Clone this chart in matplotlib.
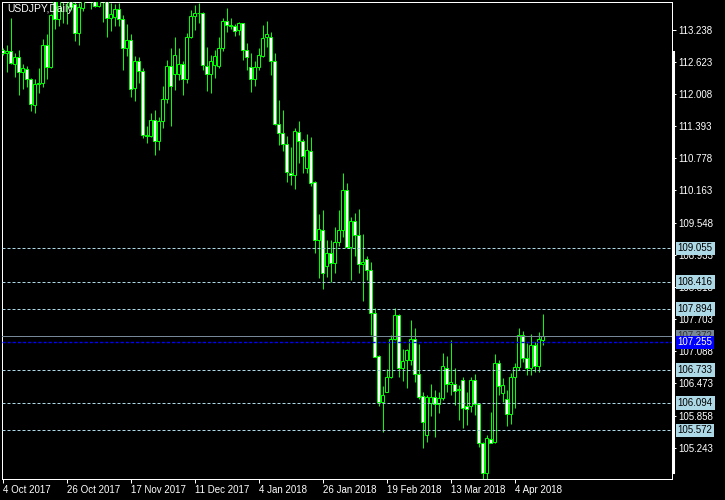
import numpy as np
import matplotlib
matplotlib.use("Agg")
from matplotlib import pyplot as plt
from matplotlib import transforms
from matplotlib.lines import Line2D

plt.rcParams['font.family'] = ['Liberation Sans', 'DejaVu Sans']

# daily USDJPY bars, 4 Oct 2017 .. 13 Apr 2018
opens = [112.85, 112.79, 112.83, 112.59, 112.71, 112.43, 112.48, 112.29, 111.79, 112.19,
         112.21, 112.95, 112.53, 113.97, 113.44, 113.93, 113.81, 114.09, 113.73, 113.18,
         113.65, 113.87, 113.93, 113.84, 113.70, 113.84, 113.87, 113.47, 113.49, 113.63,
         113.45, 112.88, 113.05, 112.12, 112.64, 112.45, 111.22, 111.20, 111.51, 111.11,
         111.49, 111.92, 112.54, 112.40, 112.39, 112.58, 112.29, 113.09, 113.50, 113.55,
         113.55, 112.54, 112.39, 112.56, 112.54, 112.89, 113.40, 113.33, 113.30, 113.23,
         113.36, 112.85, 112.52, 112.29, 112.52, 112.73, 113.09, 113.10, 112.63, 111.43,
         111.26, 111.06, 110.50, 110.46, 111.28, 111.10, 110.59, 110.92, 110.32, 109.22,
         109.41, 108.71, 108.96, 108.78, 109.18, 109.41, 110.18, 109.09, 109.58, 109.31,
         108.76, 108.86, 108.65, 107.81, 106.99, 106.12, 106.31, 106.59, 107.33, 107.78,
         106.76, 106.92, 106.92, 107.33, 106.66, 106.23, 105.49, 106.10, 106.21, 106.08,
         106.19, 106.76, 106.46, 106.47, 106.35, 106.54, 106.04, 106.04, 106.54, 106.08,
         105.33, 104.75, 105.40, 105.36, 106.86, 106.28, 106.17, 105.88, 106.60, 106.78,
         107.40, 106.95, 106.76, 107.21, 106.81, 107.30]
highs = [112.88, 112.95, 113.46, 112.79, 112.85, 112.59, 112.54, 112.31, 112.29, 112.51,
         113.06, 113.16, 113.54, 114.09, 114.06, 114.06, 114.19, 114.44, 113.77, 113.74,
         114.06, 114.19, 114.12, 114.19, 114.00, 114.00, 113.93, 113.74, 113.73, 113.74,
         113.52, 113.35, 113.16, 112.73, 112.72, 112.50, 111.40, 111.64, 111.70, 111.57,
         112.16, 112.66, 112.88, 113.10, 112.89, 112.64, 113.17, 113.61, 113.71, 113.75,
         113.58, 112.91, 112.75, 112.85, 113.09, 113.47, 113.65, 113.46, 113.35, 113.39,
         113.36, 112.99, 112.79, 112.63, 112.88, 113.33, 113.40, 113.20, 112.79, 111.89,
         111.70, 111.20, 110.99, 111.35, 111.49, 111.14, 111.24, 111.19, 110.34, 109.71,
         109.79, 109.22, 109.22, 109.46, 109.78, 110.49, 110.31, 109.66, 109.73, 109.80,
         109.33, 108.91, 108.80, 107.91, 107.01, 106.42, 106.74, 107.40, 107.91, 107.80,
         107.14, 107.14, 107.69, 107.53, 107.23, 106.31, 106.25, 106.47, 106.35, 106.31,
         107.05, 106.99, 107.30, 106.76, 106.44, 106.59, 106.31, 106.60, 106.65, 106.09,
         105.36, 105.49, 105.93, 107.03, 106.92, 106.57, 106.35, 106.68, 106.86, 107.53,
         107.48, 107.24, 107.42, 107.27, 107.46, 107.80]
lows = [112.75, 112.42, 112.59, 112.34, 111.99, 112.10, 112.14, 111.69, 111.65, 112.03,
        112.14, 112.29, 112.51, 113.25, 113.30, 113.36, 113.35, 113.62, 113.02, 112.94,
        113.60, 113.76, 113.63, 113.68, 113.68, 113.39, 113.10, 113.22, 113.31, 113.31,
        112.47, 112.73, 111.96, 111.88, 112.21, 111.16, 111.08, 111.19, 110.85, 110.94,
        111.36, 111.83, 111.40, 112.08, 112.28, 111.99, 112.22, 113.07, 113.23, 113.37,
        112.47, 112.07, 112.03, 112.31, 112.50, 112.84, 113.20, 113.25, 113.12, 113.14,
        112.66, 112.47, 112.05, 112.16, 112.47, 112.72, 112.91, 112.37, 111.41, 111.03,
        110.92, 110.33, 110.27, 110.20, 110.69, 110.50, 110.49, 110.25, 108.97, 108.48,
        108.27, 108.50, 108.42, 108.59, 109.10, 109.28, 109.06, 108.45, 108.91, 108.59,
        108.05, 108.45, 107.40, 106.97, 106.04, 105.55, 106.30, 106.57, 107.30, 106.60,
        106.51, 106.38, 106.82, 106.50, 106.17, 105.23, 105.36, 105.85, 105.45, 105.90,
        106.15, 106.31, 106.25, 106.06, 105.78, 105.61, 105.68, 105.93, 105.87, 105.26,
        104.60, 104.62, 105.33, 105.33, 106.25, 106.12, 105.66, 105.70, 106.00, 106.72,
        106.89, 106.63, 106.63, 106.70, 106.70, 107.21]
closes = [112.80, 112.83, 112.61, 112.72, 112.43, 112.50, 112.29, 111.81, 112.19, 112.21,
          112.95, 112.53, 113.52, 113.44, 113.93, 113.81, 114.09, 113.67, 113.18, 113.67,
          113.87, 113.93, 113.84, 113.70, 113.84, 113.87, 113.47, 113.54, 113.63, 113.45,
          112.88, 113.05, 112.10, 112.64, 112.45, 111.22, 111.21, 111.51, 111.10, 111.49,
          111.92, 112.54, 112.16, 112.75, 112.58, 112.29, 113.09, 113.50, 113.55, 113.56,
          112.56, 112.39, 112.64, 112.73, 112.89, 113.40, 113.33, 113.31, 113.22, 113.36,
          112.85, 112.71, 112.29, 112.52, 112.75, 113.07, 113.16, 112.63, 111.43, 111.26,
          111.06, 110.52, 110.45, 111.30, 111.10, 110.83, 110.94, 110.31, 109.22, 109.42,
          108.59, 108.96, 108.78, 109.18, 109.41, 110.18, 109.08, 109.58, 109.31, 108.76,
          108.80, 108.65, 107.81, 106.98, 106.12, 106.26, 106.59, 107.33, 107.78, 106.76,
          106.90, 107.11, 107.33, 106.66, 106.22, 105.74, 106.21, 106.21, 106.08, 106.19,
          106.81, 106.46, 106.49, 106.33, 106.36, 106.00, 105.98, 106.54, 106.08, 105.33,
          104.75, 105.42, 105.34, 106.86, 106.42, 106.44, 105.88, 106.60, 106.78, 107.40,
          106.95, 106.76, 107.21, 106.81, 107.32, 107.37]

date_ticks = [0, 16, 32, 48, 64, 80, 96, 112, 128]
date_labels = ['4 Oct 2017', '26 Oct 2017', '17 Nov 2017', '11 Dec 2017', '4 Jan 2018',
               '26 Jan 2018', '19 Feb 2018', '13 Mar 2018', '4 Apr 2018']
price_ticks = [113.238, 112.623, 112.008, 111.393, 110.778, 110.163, 109.548,
               108.933, 108.318, 107.703, 107.088, 106.473, 105.858, 105.243]
levels = [109.055, 108.416, 107.894, 106.733, 106.094, 105.572]
bid = 107.372
blue_level = 107.255

GREEN = '#00FF00'
LBLUE = '#ADD8E6'
px = 0.72  # one pixel in points at 100 dpi

fig = plt.figure(figsize=(7.25, 5), dpi=100, facecolor='black')
ax = fig.add_axes([2.3/725, 21/500, 670/725, 476.7/500])
ax.set_facecolor('black')

o = np.array(opens); h = np.array(highs); l = np.array(lows); c = np.array(closes)
x = np.arange(len(o))
ax.vlines(x, l, h, color=GREEN, lw=px, zorder=2)
bottoms = np.minimum(o, c)
heights = np.maximum(np.abs(c - o), 0.01)
fills = ['white' if cc < oo else 'black' for oo, cc in zip(o, c)]
ax.bar(x, heights, bottom=bottoms, width=0.72, color=fills, edgecolor=GREEN,
       linewidth=px, zorder=3)

for lv in levels:
    ax.axhline(lv, color=LBLUE, lw=px, ls=(0, (3, 2)), zorder=4)
ax.axhline(bid, color='#778899', lw=px, zorder=4)
ax.axhline(blue_level, color='#0000FF', lw=1.0, ls=(0, (2.2, 1.5)), zorder=4)

ax.set_xlim(-0.1, 167.45)
ax.set_ylim(104.644, 113.762)

for s in ax.spines.values():
    s.set_color('white')
    s.set_linewidth(px)

ax.yaxis.tick_right()
ax.set_yticks(price_ticks)
ax.set_yticklabels(['%.3f' % p for p in price_ticks])
ax.tick_params(axis='y', colors='white', length=2.9, width=px, pad=1.2, labelsize=7)
ax.set_xticks(date_ticks)
ax.set_xticklabels(date_labels, ha='left')
ax.tick_params(axis='x', colors='white', length=2.9, width=px, pad=1.5, labelsize=7)

# price labels on the right scale
trans = transforms.blended_transform_factory(ax.transAxes, ax.transData)
xlab = 1 + 5.5/670
for lv in levels:
    ax.text(xlab, lv, '%.3f' % lv, transform=trans, ha='left', va='center', fontsize=7,
            color='black', zorder=6, clip_on=False,
            bbox=dict(boxstyle='square,pad=0.18', fc=LBLUE, ec='none'))
ax.text(xlab, bid, '%.3f' % bid, transform=trans, ha='left', va='center', fontsize=7,
        color='#333333', zorder=6, clip_on=False,
        bbox=dict(boxstyle='square,pad=0.18', fc='#778899', ec='none'))
ax.text(xlab, blue_level, '%.3f' % blue_level, transform=trans, ha='left', va='center',
        fontsize=7, color='white', zorder=7, clip_on=False,
        bbox=dict(boxstyle='square,pad=0.18', fc='#0000FF', ec='none'))

fig.add_artist(Line2D([672.5/725, 672.5/725], [1 - 52/500, 1 - 472/500],
                      color='white', lw=2.2))
fig.text(7/725, 1 - 4/500, 'USDJPY,Daily', color='white', fontsize=7.5,
         ha='left', va='top')

fig.savefig('out.png', dpi=100, facecolor='black')
